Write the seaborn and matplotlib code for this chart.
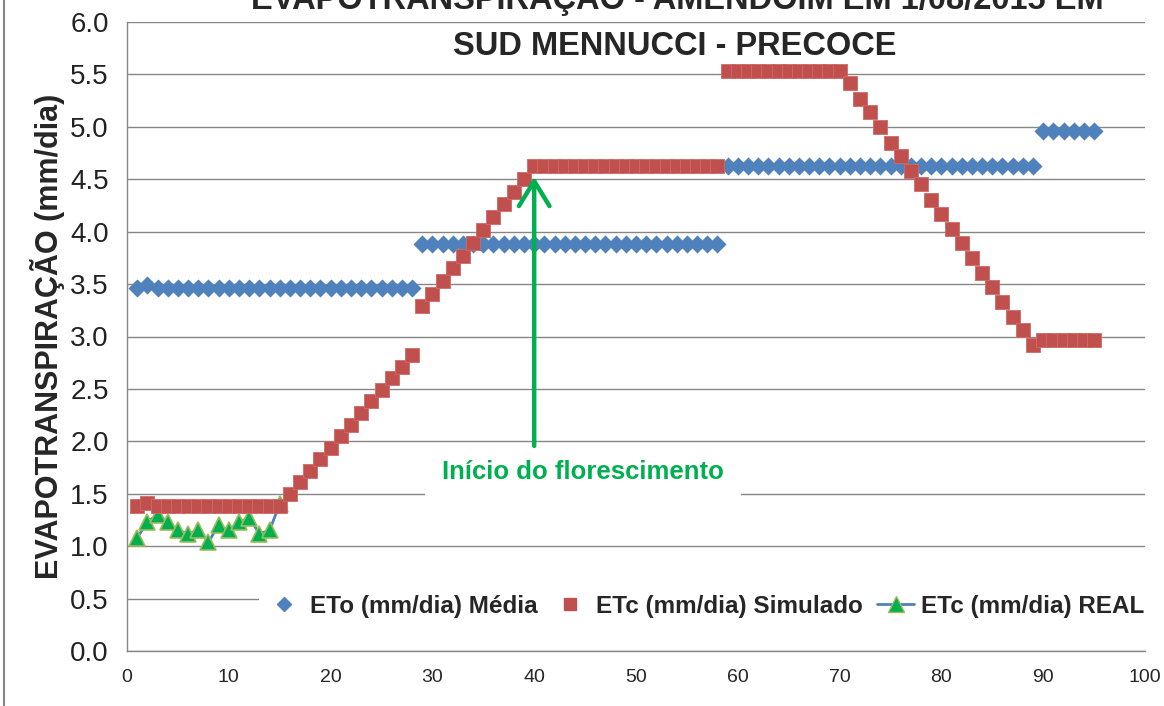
import matplotlib
matplotlib.use("Agg")
import matplotlib.pyplot as plt
from matplotlib.lines import Line2D
from matplotlib.ticker import MultipleLocator, FormatStrFormatter
import seaborn as sns
import pandas as pd

# dias após semeadura
days = list(range(1, 96))

# ETo média (mm/dia)
eto = [3.46, 3.49] + [3.46] * 26 + [3.88] * 30 + [4.63] * 31 + [4.96] * 6

# ETc simulado (mm/dia)
etc_sim = ([1.38, 1.41] + [1.38] * 13
           + [1.50, 1.61, 1.72, 1.83, 1.94, 2.05, 2.16, 2.27, 2.38, 2.49, 2.60, 2.71, 2.82]
           + [3.29, 3.41, 3.53, 3.65, 3.77, 3.89, 4.02, 4.14, 4.26, 4.38, 4.50]
           + [4.63] * 19
           + [5.53] * 12
           + [5.42, 5.27, 5.14, 5.00, 4.85, 4.72, 4.58, 4.45, 4.30, 4.17,
              4.03, 3.89, 3.75, 3.61, 3.47, 3.33, 3.19, 3.06, 2.92]
           + [2.97] * 6)

# ETc real (mm/dia)
days_real = list(range(1, 16))
etc_real = [1.08, 1.23, 1.30, 1.23, 1.15, 1.12, 1.15, 1.04, 1.20, 1.15,
            1.23, 1.27, 1.12, 1.15, 1.40]

df = pd.DataFrame({"dia": days, "eto": eto, "etc_sim": etc_sim})
df_real = pd.DataFrame({"dia": days_real, "etc_real": etc_real})

sns.set_style("white")
plt.rcParams["font.family"] = ["Liberation Sans", "DejaVu Sans"]

BLUE = "#4F81BD"
RED = "#C0504D"
GREEN = "#00B050"
GRID = "#868686"

fig = plt.figure(figsize=(11.64, 7.06), dpi=100)
ax = fig.add_axes([127 / 1164, 1 - 651 / 706, (1145 - 127) / 1164, (651 - 22) / 706])

sns.scatterplot(data=df, x="dia", y="eto", marker="D", s=85, color=BLUE,
                linewidth=0, ax=ax, zorder=3)
sns.lineplot(data=df_real, x="dia", y="etc_real", color=BLUE, linewidth=2,
             marker="^", markersize=12, markerfacecolor=GREEN,
             markeredgecolor="#9BBB59", markeredgewidth=1.2, ax=ax, zorder=4)
sns.scatterplot(data=df, x="dia", y="etc_sim", marker="s", s=88, color=RED,
                edgecolor="#D06A67", linewidth=0.6, ax=ax, zorder=5)

ax.set_xlim(0, 100)
ax.set_ylim(0, 6)
ax.xaxis.set_major_locator(MultipleLocator(10))
ax.xaxis.set_minor_locator(MultipleLocator(5))
ax.yaxis.set_major_locator(MultipleLocator(0.5))
ax.yaxis.set_minor_locator(MultipleLocator(0.25))
ax.yaxis.set_major_formatter(FormatStrFormatter("%.1f"))

ax.set_axisbelow(True)
ax.grid(axis="y", which="major", color=GRID, linewidth=1)
for side in ["top", "right"]:
    ax.spines[side].set_visible(False)
for side in ["left", "bottom"]:
    ax.spines[side].set_color(GRID)
    ax.spines[side].set_linewidth(1)

ax.tick_params(axis="y", which="major", direction="out", length=7, color=GRID,
               labelsize=20, pad=6, labelcolor="#222222")
ax.tick_params(axis="y", which="minor", direction="in", length=5, color=GRID)
ax.tick_params(axis="x", which="major", direction="inout", length=12, color=GRID,
               labelsize=14, pad=7)
ax.tick_params(axis="x", which="minor", direction="in", length=5, color=GRID)

ax.set_xlabel("")
ax.set_ylabel("EVAPOTRANSPIRAÇÃO (mm/dia)", fontsize=22, fontweight="bold",
              labelpad=4)

# seta e texto do florescimento
ax.annotate("", xy=(40, 4.55), xytext=(40, 1.93),
            arrowprops=dict(arrowstyle="->,head_length=0.9,head_width=0.55",
                            color=GREEN, lw=3.2, mutation_scale=20),
            zorder=6)
ax.text(44.8, 1.71, "Início do florescimento", color=GREEN, fontsize=18.5,
        fontweight="bold", ha="center", va="center", zorder=2.5,
        bbox=dict(facecolor="white", edgecolor="none", pad=12))

handles = [
    Line2D([], [], linestyle="none", marker="D", markersize=7, color=BLUE),
    Line2D([], [], linestyle="none", marker="s", markersize=9, color=RED),
    Line2D([], [], color=BLUE, linewidth=2, marker="^", markersize=11,
           markerfacecolor=GREEN, markeredgecolor="#9BBB59"),
]
labels = ["ETo (mm/dia) Média", "ETc (mm/dia) Simulado", "ETc (mm/dia) REAL"]
leg = ax.legend(handles, labels, loc="center", bbox_to_anchor=(0.568, 0.0715),
                ncol=3, frameon=True, facecolor="white", edgecolor="none",
                framealpha=1, fancybox=False, handlelength=1.5,
                handletextpad=0.3, columnspacing=0.6, borderpad=0.3,
                prop=dict(family=["Liberation Sans", "DejaVu Sans"],
                          weight="bold", size=17.5))

# título (primeira linha cortada no topo, como no original)
fig.text(0.582, 1 - 9 / 706, "EVAPOTRANSPIRAÇÃO - AMENDOIM EM 1/08/2015 EM",
         ha="center", va="baseline", fontsize=23.5, fontweight="bold")
fig.text(0.58, 1 - 55 / 706, "SUD MENNUCCI - PRECOCE", ha="center",
         va="baseline", fontsize=23.5, fontweight="bold")

# borda esquerda do gráfico
fig.add_artist(Line2D([4 / 1164, 4 / 1164], [0, 1], color=GRID, linewidth=1.5,
                      transform=fig.transFigure))

fig.savefig("out.png", dpi=100)
